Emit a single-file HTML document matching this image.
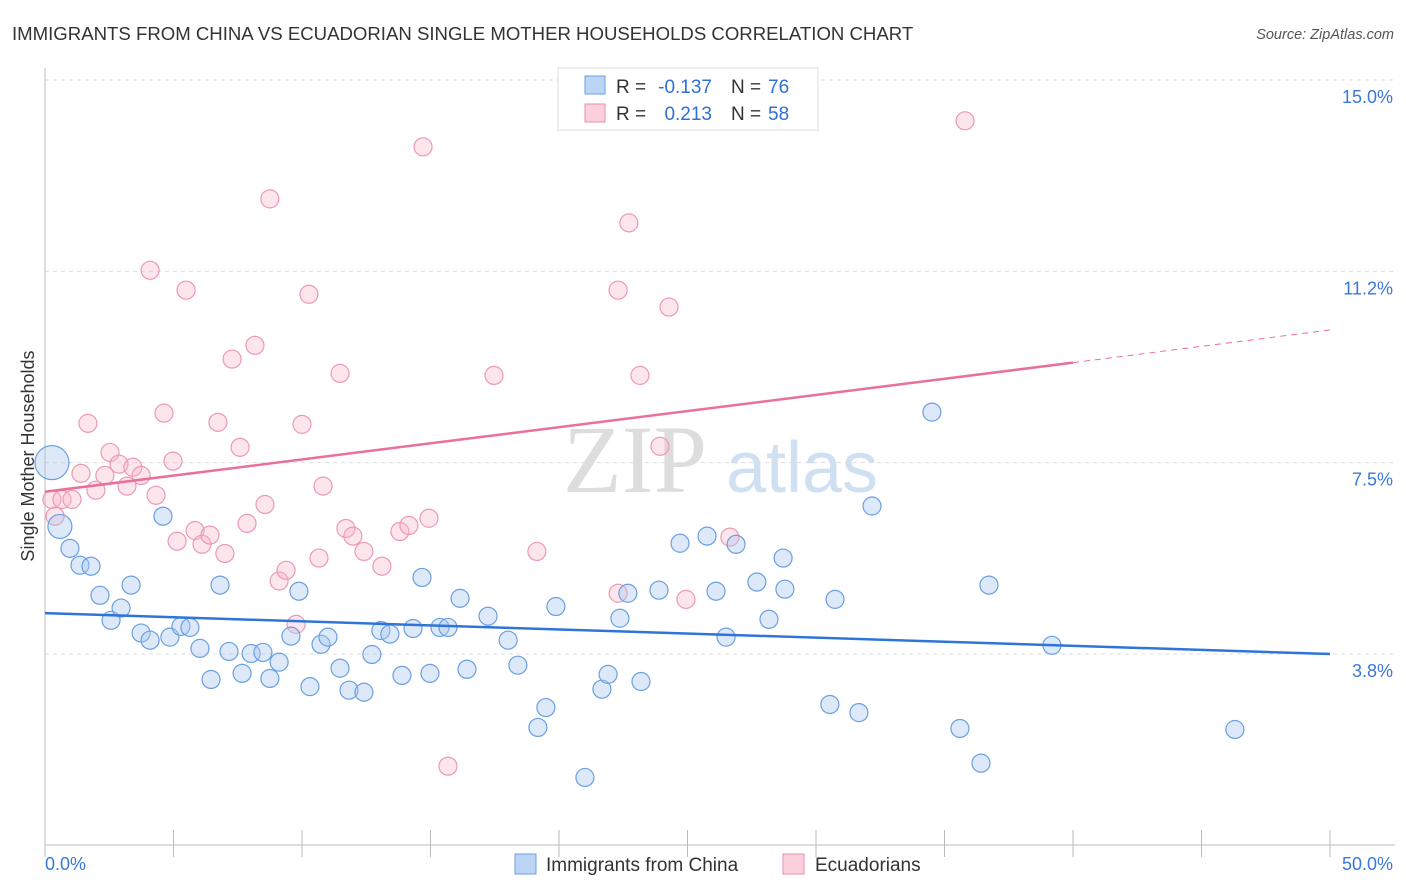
<!DOCTYPE html>
<html><head><meta charset="utf-8"><style>
body{margin:0;background:#fff;font-family:"Liberation Sans",sans-serif;}
svg{display:block}
</style></head><body>
<svg id="c" width="1406" height="892" xmlns="http://www.w3.org/2000/svg">
<text x="12" y="40" font-size="18.6" fill="#333">IMMIGRANTS FROM CHINA VS ECUADORIAN SINGLE MOTHER HOUSEHOLDS CORRELATION CHART</text>
<text x="1394" y="39" font-size="14.5" fill="#555" font-style="italic" text-anchor="end">Source: ZipAtlas.com</text>
<g>
<text x="635" y="492" font-size="96" fill="#ddd" font-family="Liberation Serif,serif" text-anchor="middle">ZIP</text>
<text x="802" y="492" font-size="72" fill="#cfe0f3" text-anchor="middle">atlas</text>
</g>
<text transform="translate(34,456) rotate(-90)" font-size="18" fill="#333" text-anchor="middle">Single Mother Households</text>
<g id="grid"></g><g id="pts"></g><g id="lines"></g>
<g>
<rect x="558" y="68" width="260" height="62" fill="#fff" stroke="#ddd"/>
<rect x="585" y="76" width="20" height="18" fill="#bcd5f5" stroke="#6a9fe0"/>
<rect x="585" y="104" width="20" height="18" fill="#fbd0dc" stroke="#eb8faa"/>
<text x="616" y="93" font-size="19" fill="#333">R =</text>
<text x="712" y="93" font-size="19" fill="#2f6fd6" text-anchor="end">-0.137</text>
<text x="731" y="93" font-size="19" fill="#333">N =</text>
<text x="768" y="93" font-size="19" fill="#2f6fd6">76</text>
<text x="616" y="120" font-size="19" fill="#333">R =</text>
<text x="712" y="120" font-size="19" fill="#2f6fd6" text-anchor="end">0.213</text>
<text x="731" y="120" font-size="19" fill="#333">N =</text>
<text x="768" y="120" font-size="19" fill="#2f6fd6">58</text>
</g>
<g>
<rect x="515" y="854" width="21" height="20" fill="#bcd5f5" stroke="#6a9fe0"/>
<text x="546" y="871" font-size="19" fill="#333">Immigrants from China</text>
<rect x="783" y="854" width="21" height="20" fill="#fbd0dc" stroke="#eb8faa"/>
<text x="815" y="871" font-size="19" fill="#333">Ecuadorians</text>
</g>
</svg>
<script>
const yTicks=[3.75,7.5,11.25,15];
const yTickLabels=["3.8%","7.5%","11.2%","15.0%"];
const xTickLabels=["0.0%","50.0%"];
const chinaX=[0.27,0.58,0.97,1.36,1.79,2.14,2.57,2.96,3.35,3.74,4.09,4.59,4.86,5.29,5.64,6.03,6.46,6.81,7.16,7.67,8.02,8.48,8.75,9.11,9.57,9.88,10.31,10.74,11.01,11.48,11.83,12.41,12.72,13.07,13.42,13.89,14.32,14.67,14.98,15.37,15.68,16.15,16.42,17.24,18.02,18.40,19.18,19.49,19.88,21.01,21.67,21.91,22.37,22.68,23.19,23.89,24.71,25.76,26.11,26.50,26.89,27.70,28.17,28.72,28.79,30.54,30.74,31.67,32.18,34.51,35.60,36.42,36.73,39.18,46.30];
const chinaY=[7.50,6.25,5.82,5.49,5.47,4.90,4.41,4.65,5.10,4.16,4.02,6.45,4.08,4.29,4.27,3.86,3.25,5.10,3.80,3.37,3.76,3.78,3.27,3.59,4.10,4.98,3.11,3.94,4.08,3.47,3.04,3.00,3.74,4.21,4.14,3.33,4.25,5.25,3.37,4.27,4.27,4.84,3.45,4.49,4.02,3.53,2.31,2.70,4.68,1.33,3.06,3.35,4.45,4.94,3.21,5.00,5.92,6.06,4.98,4.08,5.90,5.16,4.43,5.63,5.02,2.76,4.82,2.60,6.65,8.49,2.29,1.61,5.10,3.92,2.27];
const chinaR=[17,12];
const ecuX=[0.27,0.39,0.66,1.05,1.40,1.67,1.98,2.33,2.53,2.88,3.19,3.42,3.74,4.09,4.32,4.63,4.98,5.14,5.49,5.84,6.11,6.42,6.73,7.00,7.28,7.59,7.86,8.17,8.56,8.75,9.11,9.38,9.77,10.00,10.27,10.66,10.82,11.48,11.71,11.98,12.41,13.11,13.81,14.16,14.71,14.94,15.68,17.47,19.14,22.30,22.30,22.72,23.15,23.93,24.28,24.94,26.65,35.80];
const ecuY=[6.78,6.45,6.78,6.78,7.29,8.27,6.96,7.25,7.70,7.47,7.04,7.41,7.25,11.27,6.86,8.47,7.53,5.96,10.88,6.17,5.90,6.08,8.29,5.72,9.53,7.80,6.31,9.80,6.68,12.67,5.18,5.39,4.33,8.25,10.80,5.63,7.04,9.25,6.21,6.06,5.76,5.47,6.15,6.27,13.69,6.41,1.55,9.21,5.76,4.94,10.88,12.20,9.21,7.82,10.55,4.82,6.04,14.20];
const X0=45,X1=1330,Y0=80,PX=(X1-X0)/50,PY=51.02;
const sx=v=>X0+v*PX, sy=v=>Y0+(15-v)*PY;
const NS="http://www.w3.org/2000/svg";
function mk(t,a,p){const e=document.createElementNS(NS,t);for(const k in a)e.setAttribute(k,a[k]);p.appendChild(e);return e;}
const grid=document.getElementById('grid'),pts=document.getElementById('pts'),lines=document.getElementById('lines');
yTicks.forEach((v,i)=>{
 const l=mk('line',{x1:45,x2:1395,y1:sy(v),y2:sy(v),stroke:'#ddd','stroke-dasharray':'4,4'},grid);
 
 
 const t=mk('text',{x:1393,y:sy(v)+23,'font-size':18,fill:'#3a78d8','text-anchor':'end'},grid);
 t.textContent=yTickLabels[i];
 
 
});
const ax=mk('line',{x1:45,x2:45,y1:68,y2:845,stroke:'#bbb'},grid);


const bx=mk('line',{x1:45,x2:1395,y1:845,y2:845,stroke:'#bbb'},grid);


for(let i=0;i<=10;i++){const x=sx(i*5);const t=mk('line',{x1:x,x2:x,y1:830,y2:857,stroke:'#bbb'},grid);
 
 }
[[0,45,'start'],[50,1393,'end']].forEach((a,i)=>{const t=mk('text',{x:a[1],y:870,'font-size':18,fill:'#3a78d8','text-anchor':a[2]},grid);t.textContent=xTickLabels[i];
 
 });
ecuX.forEach((x,i)=>{const c=mk('circle',{cx:sx(x),cy:sy(ecuY[i]),r:9,fill:'rgba(248,180,200,0.35)',stroke:'#eb9ab2','stroke-width':1.2},pts);
 
 });
chinaX.forEach((x,i)=>{const c=mk('circle',{cx:sx(x),cy:sy(chinaY[i]),r:chinaR[i]||9,fill:'rgba(170,200,240,0.4)',stroke:'#6a9fe0','stroke-width':1.2},pts);
 
 });
const b=mk('line',{x1:sx(0),y1:sy(4.55),x2:sx(50),y2:sy(3.75),stroke:'#2f74d8','stroke-width':2.5},lines);


const p=mk('line',{x1:sx(0),y1:sy(6.93),x2:sx(40),y2:sy(9.46),stroke:'#e8709a','stroke-width':2.5},lines);


const pd=mk('line',{x1:sx(40),y1:sy(9.46),x2:sx(50),y2:sy(10.1),stroke:'#e8709a','stroke-width':1,'stroke-dasharray':'6,5'},lines);


</script>
</body></html>
